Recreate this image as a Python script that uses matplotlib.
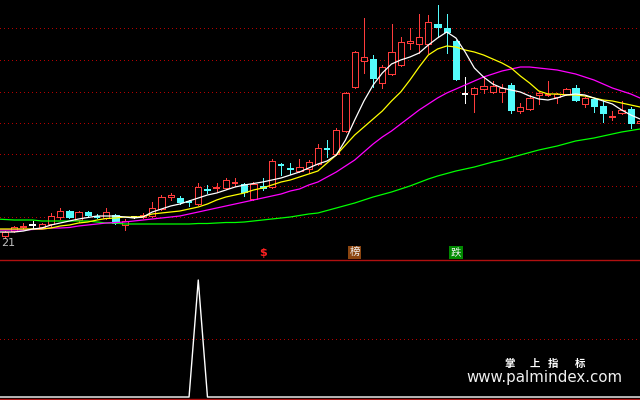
import numpy as np
import matplotlib
matplotlib.use("Agg")
from matplotlib import pyplot as plt
from matplotlib.patches import Rectangle

# daily bars, oldest first
opens = [2.4, 2.9, 3.3, 3.5, 3.3, 3.6, 4.3, 4.9, 4.0, 4.8,
         4.4, 4.2, 4.5, 3.5, 4.3, 4.3, 4.4, 5.1, 6.3, 6.2,
         5.9, 5.6, 7.1, 7.2, 7.2, 7.7, 7.6, 6.1, 7.4, 7.3,
         9.6, 9.2, 8.9, 9.1, 9.6, 11.2, 10.6, 12.9, 17.3, 19.9,
         20.1, 17.7, 18.6, 19.5, 21.7, 21.6, 21.6, 23.6, 23.2, 21.9,
         16.6, 16.6, 17.1, 16.8, 16.8, 17.5, 14.9, 15.1, 16.5, 16.5,
         16.3, 16.6, 17.2, 15.6, 16.1, 15.4, 14.3, 14.7, 15.1, 13.7]
highs = [2.9, 3.4, 3.7, 3.9, 3.7, 4.7, 5.2, 5.0, 4.9, 4.9,
         4.6, 5.2, 4.6, 4.1, 4.4, 4.7, 5.8, 6.5, 6.7, 6.4,
         6.0, 7.7, 7.5, 7.7, 8.2, 8.2, 7.7, 7.8, 8.2, 10.1,
         9.7, 9.7, 10.1, 10.0, 11.6, 12.0, 13.2, 16.8, 20.9, 24.2,
         20.5, 19.5, 23.6, 22.3, 23.2, 24.6, 24.5, 25.5, 24.6, 22.0,
         18.3, 17.3, 18.4, 17.9, 17.6, 17.7, 15.7, 16.5, 16.8, 17.9,
         16.7, 17.2, 17.5, 16.3, 16.2, 16.0, 14.9, 15.9, 15.3, 14.0]
lows = [2.2, 2.8, 3.1, 3.1, 3.2, 3.3, 4.1, 4.2, 3.8, 4.3,
        4.2, 4.1, 3.6, 3.0, 4.2, 4.2, 4.3, 5.0, 6.0, 5.6,
        5.4, 5.5, 6.7, 6.9, 7.1, 7.4, 6.4, 6.0, 7.0, 7.2,
        8.5, 8.6, 8.8, 8.7, 9.5, 10.3, 10.5, 12.8, 17.2, 18.7,
        17.3, 17.2, 18.5, 19.4, 21.1, 20.7, 20.7, 22.3, 20.7, 18.0,
        15.7, 14.8, 16.7, 16.7, 15.8, 14.7, 14.7, 15.0, 15.6, 16.4,
        15.7, 16.5, 15.9, 15.3, 14.8, 13.8, 14.0, 14.6, 13.2, 13.6]
closes = [2.8, 3.3, 3.4, 3.5, 3.6, 4.4, 4.9, 4.3, 4.8, 4.5,
          4.3, 4.8, 3.7, 3.9, 4.3, 4.5, 5.2, 6.3, 6.5, 5.8,
          5.8, 7.3, 7.0, 7.3, 8.0, 7.8, 6.8, 7.6, 7.2, 9.9,
          9.5, 9.1, 9.3, 9.8, 11.2, 11.1, 13.0, 16.7, 20.8, 20.3,
          18.2, 19.3, 20.8, 21.8, 21.9, 22.3, 23.8, 23.3, 22.8, 18.1,
          16.6, 17.2, 17.4, 17.4, 17.2, 15.0, 15.3, 16.2, 16.7, 16.6,
          16.6, 17.1, 16.0, 16.2, 15.4, 14.7, 14.4, 15.0, 13.7, 13.9]

# average lines, first value belongs to the day before the first bar
ma_white = [2.8, 2.8, 2.8, 2.9, 3.1, 3.2, 3.5, 3.7, 3.9, 4.1, 4.25,
            4.4, 4.4, 4.4, 4.3, 4.2, 4.3, 4.8, 5.1, 5.4, 5.6,
            5.9, 6.2, 6.5, 6.7, 7.0, 7.3, 7.5, 7.65, 7.8, 8.0,
            8.2, 8.5, 8.8, 9.2, 9.6, 9.9, 10.5, 12.0, 14.0, 15.9,
            17.5, 18.7, 19.6, 20.0, 20.3, 20.7, 21.5, 22.2, 22.8, 22.2,
            20.8, 19.2, 18.3, 17.6, 17.2, 17.0, 16.8, 16.4, 16.1, 16.0,
            16.2, 16.5, 16.6, 16.5, 16.2, 15.9, 15.6, 15.0, 14.5, 14.1]
ma_yellow = [3.1, 3.1, 3.1, 3.1, 3.1, 3.1, 3.2, 3.4, 3.5, 3.7, 3.8,
             4.0, 4.15, 4.2, 4.3, 4.3, 4.35, 4.6, 4.7, 4.8, 4.9,
             5.1, 5.3, 5.6, 6.0, 6.3, 6.5, 6.7, 7.0, 7.2, 7.5,
             7.8, 8.0, 8.3, 8.6, 8.9, 9.7, 10.5, 11.5, 12.5, 13.3,
             14.1, 14.9, 15.9, 16.8, 18.0, 19.3, 20.5, 21.1, 21.4, 21.3,
             21.0, 20.8, 20.5, 20.1, 19.7, 19.2, 18.4, 17.7, 16.9, 16.6,
             16.6, 16.5, 16.5, 16.4, 16.2, 16.0, 15.9, 15.7, 15.5, 15.3]
ma_purple = [3.0, 3.0, 3.0, 3.0, 3.05, 3.1, 3.2, 3.2, 3.25, 3.4, 3.5,
             3.6, 3.7, 3.75, 3.8, 3.9, 4.0, 4.1, 4.2, 4.3, 4.4,
             4.6, 4.8, 5.0, 5.2, 5.4, 5.6, 5.8, 6.0, 6.2, 6.4,
             6.6, 6.9, 7.1, 7.5, 7.8, 8.3, 8.8, 9.4, 10.0, 10.8,
             11.6, 12.3, 12.9, 13.6, 14.3, 15.0, 15.6, 16.2, 16.7, 17.1,
             17.5, 17.9, 18.3, 18.6, 18.9, 19.1, 19.3, 19.3, 19.2, 19.1,
             19.0, 18.8, 18.6, 18.3, 18.0, 17.6, 17.2, 16.9, 16.6, 16.2]
ma_green = [4.1, 4.05, 4.0, 4.0, 4.0, 3.9, 3.9, 3.9, 3.9, 3.9, 3.9,
            3.8, 3.7, 3.7, 3.6, 3.6, 3.6, 3.6, 3.6, 3.6, 3.6,
            3.6, 3.65, 3.65, 3.7, 3.75, 3.75, 3.8, 3.9, 4.0, 4.1,
            4.2, 4.3, 4.45, 4.6, 4.7, 4.95, 5.2, 5.45, 5.7, 6.0,
            6.3, 6.55, 6.8, 7.1, 7.4, 7.75, 8.1, 8.4, 8.65, 8.9,
            9.1, 9.3, 9.55, 9.8, 10.0, 10.25, 10.5, 10.75, 11.0, 11.2,
            11.4, 11.65, 11.9, 12.05, 12.2, 12.4, 12.6, 12.8, 12.95, 13.1]

# lower panel signal, same days as the average lines
signal = [0] * 22 + [1] + [0] * 48

grid_levels = [4.3, 7.4, 10.6, 13.7, 16.8, 20.0, 23.2]
mark_days = [28, 38, 49]
mark_texts = ["$", "榜", "跌"]
mark_colors = [None, "#8b4510", "#008a00"]

days = np.arange(len(closes))
ma_days = np.arange(-1, len(closes))

red = "#ff3c3c"
cyan = "#54fcfc"
cjk = ["Noto Sans CJK SC", "DejaVu Sans"]

fig = plt.figure(figsize=(6.4, 4.0), dpi=100, facecolor="black")
ax = fig.add_axes([0, 0.35, 1, 0.65])
ax2 = fig.add_axes([0, 0.0025, 1, 0.3475])
for a in (ax, ax2):
    a.set_facecolor("black")
    a.set_xticks([])
    a.set_yticks([])
    for s in a.spines.values():
        s.set_visible(False)
    a.set_xlim(-0.543, 69.0)
ax.set_ylim(0, 26)
ax2.set_ylim(-0.017, 1.171)
for side in ["top", "bottom"]:
    ax2.spines[side].set_visible(True)
    ax2.spines[side].set_color("#b01010")
    ax2.spines[side].set_linewidth(1.0)

for g in grid_levels:
    ax.axhline(g, color="#b40000", lw=0.72, linestyle=(0, (1, 3)),
               antialiased=False, zorder=1)
ax2.axhline(0.5, color="#b40000", lw=0.72, linestyle=(0, (1, 3)),
            antialiased=False, zorder=1)

# candles
for i in days:
    o, h, l, c = opens[i], highs[i], lows[i], closes[i]
    if c > o:
        col = red
    elif c < o:
        col = cyan
    else:
        col = "white"
    ax.vlines(i, l, h, color=col, lw=0.7, antialiased=False, zorder=2)
    if abs(c - o) < 0.15:
        ax.hlines((o + c) / 2, i - 0.36, i + 0.36, color=col, lw=1.4,
                  antialiased=False, zorder=3)
    else:
        face = "black" if c > o else cyan
        ax.bar(i, abs(c - o), bottom=min(o, c), width=0.68, facecolor=face,
               edgecolor=col, lw=0.7, antialiased=False, zorder=3)

ax.plot(ma_days, ma_green, color="#00ff00", lw=0.9, zorder=4)
ax.plot(ma_days, ma_purple, color="#ff00ff", lw=0.9, zorder=4)
ax.plot(ma_days, ma_yellow, color="#ffff00", lw=0.9, zorder=4)
ax.plot(ma_days, ma_white, color="white", lw=0.9, zorder=4)

ax.text(-0.45, 1.7, "21", color="#c0c0c0", fontsize=8, ha="left", va="center")

for d, t, bg in zip(mark_days, mark_texts, mark_colors):
    if bg is None:
        ax.text(d, 0.7, t, color="#ff2020", fontsize=8, fontweight="bold",
                ha="center", va="center")
    else:
        ax.add_patch(Rectangle((d - 0.72, 0.1), 1.44, 1.35, facecolor=bg,
                               edgecolor="none", zorder=5))
        ax.text(d, 0.77, t, color="#f0f0f0", fontsize=7.5, family=cjk,
                ha="center", va="center", zorder=6)

ax2.plot(ma_days, signal, color="white", lw=1.0)

# watermark
for ch, px in zip("掌上指标", [510, 535, 553, 580]):
    fig.text(px / 640, 1 - 364 / 400, ch, color="white", fontsize=7.5,
             fontweight="bold", family=cjk, ha="center", va="center")
fig.text(544 / 640, 1 - 377.5 / 400, "www.palmindex.com", color="#f0f0f0",
         fontsize=10.8, ha="center", va="center")

fig.savefig("out.png", dpi=100, facecolor="black")
